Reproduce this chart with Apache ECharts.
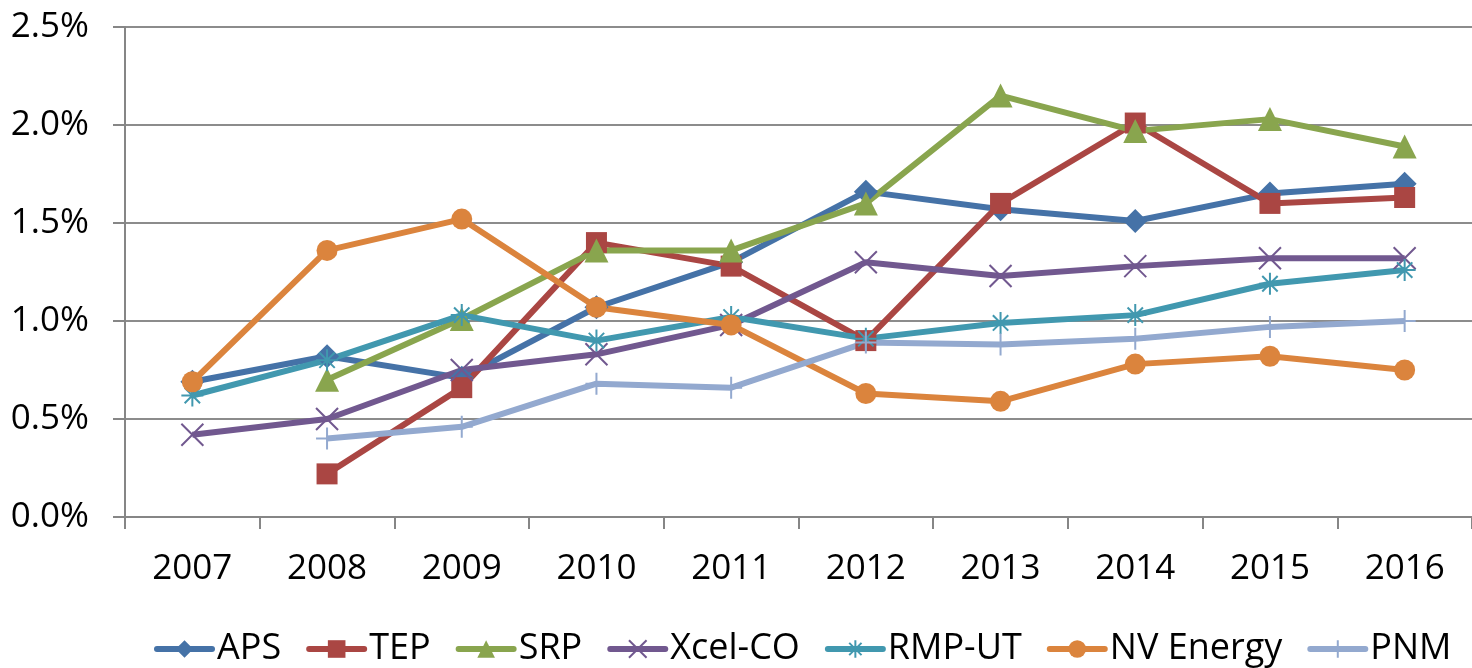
<!DOCTYPE html>
<html>
<head>
<meta charset="utf-8">
<script src="https://cdn.jsdelivr.net/npm/echarts@6/dist/echarts.min.js"></script>
<style>
  html, body { margin: 0; padding: 0; background: #fff; }
  #chart { width: 1472px; height: 668px; }
</style>
</head>
<body>
<div id="chart"></div>
<script>
const years = ['2007', '2008', '2009', '2010', '2011', '2012', '2013', '2014', '2015', '2016'];
const yTicks = [0, 0.5, 1.0, 1.5, 2.0, 2.5];

const aps = [0.69, 0.82, 0.71, 1.07, 1.30, 1.66, 1.57, 1.51, 1.65, 1.70];
const tep = [null, 0.22, 0.66, 1.40, 1.28, 0.90, 1.60, 2.01, 1.60, 1.63];
const srp = [null, 0.70, 1.01, 1.36, 1.36, 1.60, 2.15, 1.97, 2.03, 1.89];
const xcel = [0.42, 0.50, 0.75, 0.83, 0.98, 1.30, 1.23, 1.28, 1.32, 1.32];
const rmp = [0.62, 0.80, 1.03, 0.90, 1.02, 0.91, 0.99, 1.03, 1.19, 1.26];
const nv = [0.69, 1.36, 1.52, 1.07, 0.98, 0.63, 0.59, 0.78, 0.82, 0.75];
const pnm = [null, 0.40, 0.46, 0.68, 0.66, 0.89, 0.88, 0.91, 0.97, 1.00];

const FONT = '"Open Sans", sans-serif';

// marker shapes for the stroked symbols
const xMark = 'path://M0,0L20,20M20,0L0,20';
const starMark = 'path://M0,10L20,10M10,0L10,20M3,3L17,17M17,3L3,17';
const plusMark = 'path://M10,0L10,20M0,10L20,10';

function line(name, data, color, symbol, size, stroked) {
  return {
    name: name,
    type: 'line',
    data: data,
    symbol: symbol,
    symbolSize: size,
    showAllSymbol: true,
    connectNulls: false,
    lineStyle: { color: color, width: 6 },
    itemStyle: stroked
      ? { color: color, borderColor: color, borderWidth: 2 }
      : { color: color },
    emphasis: { disabled: true }
  };
}

const chart = echarts.init(document.getElementById('chart'));

chart.setOption({
  animation: false,
  grid: { left: 125, right: 0, top: 27, bottom: 151 },
  legend: {
    top: 626,
    left: 149,
    itemWidth: 55,
    itemHeight: 22,
    itemGap: 25,
    lineStyle: { width: 6, cap: 'round' },
    textStyle: { fontFamily: FONT, fontSize: 36, color: '#000' },
    data: ['APS', 'TEP', 'SRP', 'Xcel-CO', 'RMP-UT', 'NV Energy', 'PNM']
  },
  xAxis: {
    type: 'category',
    data: years,
    boundaryGap: true,
    axisLine: { lineStyle: { color: '#868686', width: 2 } },
    axisTick: { show: true, length: 12, lineStyle: { color: '#868686', width: 2 } },
    axisLabel: { fontFamily: FONT, fontSize: 35, color: '#000', margin: 35 }
  },
  yAxis: {
    type: 'value',
    min: yTicks[0],
    max: yTicks[yTicks.length - 1],
    interval: 0.5,
    axisLine: { show: true, lineStyle: { color: '#868686', width: 2 } },
    axisTick: { show: true, length: 12, lineStyle: { color: '#868686', width: 2 } },
    splitLine: { show: true, lineStyle: { color: '#8c8c8c', width: 2 } },
    axisLabel: {
      fontFamily: FONT, fontSize: 35, color: '#000', margin: 36,
      formatter: v => v.toFixed(1) + '%'
    }
  },
  series: [
    line('APS', aps, '#4572A7', 'diamond', 24, false),
    line('TEP', tep, '#AA4643', 'rect', 21, false),
    line('SRP', srp, '#89A54E', 'triangle', 24, false),
    line('Xcel-CO', xcel, '#71588F', xMark, 22, true),
    line('RMP-UT', rmp, '#4198AF', starMark, 22, true),
    line('NV Energy', nv, '#DB843D', 'circle', 21, false),
    line('PNM', pnm, '#93A9CF', plusMark, 22, true)
  ]
});
</script>
</body>
</html>
